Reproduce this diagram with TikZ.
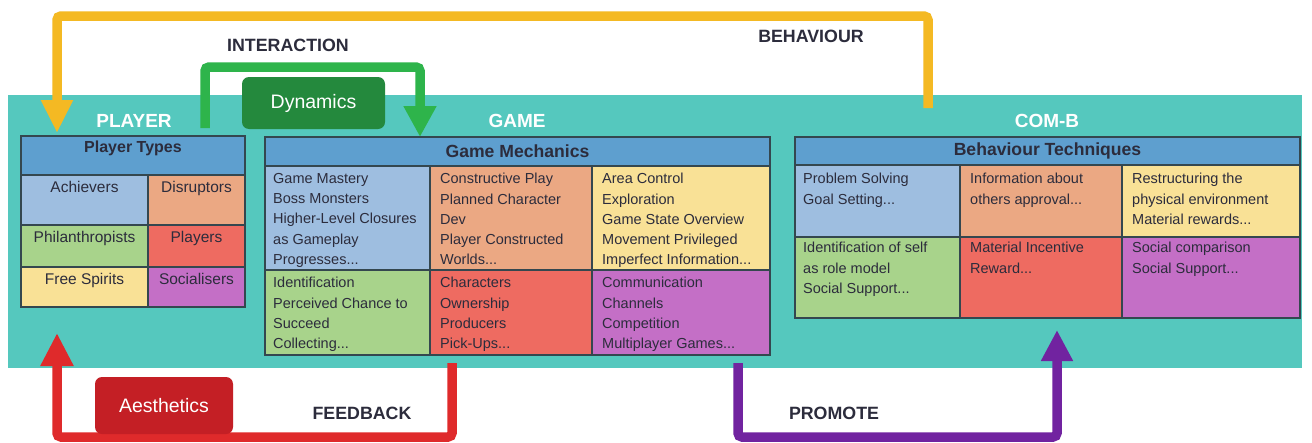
\documentclass[tikz,border=0pt]{standalone}
\usepackage{fontspec}
\setmainfont{Liberation Sans}
\usetikzlibrary{arrows.meta,fit}
\definecolor{tealbg}{HTML}{55C8BE}
\definecolor{hdr}{HTML}{5E9FCF}
\definecolor{clb}{HTML}{9EBEE0}
\definecolor{cor}{HTML}{EBA883}
\definecolor{cye}{HTML}{F9E196}
\definecolor{cgr}{HTML}{A8D38B}
\definecolor{cre}{HTML}{EE6B61}
\definecolor{cpu}{HTML}{C46FC6}
\definecolor{bord}{HTML}{34474F}
\definecolor{txt}{HTML}{2C2C3C}
\definecolor{ayel}{HTML}{F4B923}
\definecolor{agrn}{HTML}{2EB44B}
\definecolor{dgrn}{HTML}{24893D}
\definecolor{ared}{HTML}{DF2A2B}
\definecolor{dred}{HTML}{C41F25}
\definecolor{apur}{HTML}{7123A0}
\tikzset{
  cell/.style={draw=bord, line width=1.3pt, inner sep=0pt, outer sep=0pt},
  ctext/.style={inner sep=0pt, align=left, text=txt, font=\fontsize{14.5}{20.3}\selectfont},
  ptext/.style={inner sep=0pt, text=txt, font=\fontsize{15.5}{19}\selectfont},
  htext/.style={inner sep=0pt, text=txt, font=\bfseries\fontsize{17.6}{20}\selectfont},
  grp/.style={font=\bfseries\fontsize{19}{22}\selectfont, text=white, inner sep=0pt},
  flow/.style={font=\bfseries\fontsize{17.8}{20}\selectfont, text=txt, inner sep=0pt},
  stagebox/.style={rounded corners=7pt, text=white, font=\fontsize{19.5}{22}\selectfont, inner sep=0pt},
  bigarrow/.style={line width=9.5pt, rounded corners=4pt},
}
\begin{document}
\begin{tikzpicture}[x=1pt,y=-1pt]
\useasboundingbox (0,0) rectangle (1312,442);
\fill[white] (0,0) rectangle (1312,442);
% teal background
\node[fill=tealbg, inner sep=0pt, fit={(8,95) (1302,368)}] (bg) {};

% arrows (lines behind boxes)
\coordinate (ys) at (928,108);
\coordinate (ye) at (57,133);
\draw[bigarrow, ayel, -{Triangle[width=30pt,length=33pt]}] (ys) -- ++(0,-92) -| (ye);
\coordinate (gs) at (205,128);
\coordinate (ge) at (420,137);
\draw[bigarrow, agrn, -{Triangle[width=31pt,length=31pt]}] (gs) -- ++(0,-61) -| (ge);
\coordinate (rs) at (452,363);
\coordinate (re) at (57,333);
\draw[bigarrow, ared, -{Triangle[width=31pt,length=33pt]}] (rs) -- ++(0,74) -| (re);
\coordinate (ps) at (738,363);
\coordinate (pe) at (1057,330);
\draw[bigarrow, apur, -{Triangle[width=30pt,length=31pt]}] (ps) -- ++(0,74) -| (pe);

% group labels
\node[grp] (lplayer) at (134,121) {PLAYER};
\node[grp] (lgame) at (517,121) {GAME};
\node[grp] (lcomb) at (1047,121) {COM-B};

% flow labels
\node[flow] (linter) at (288,45) {INTERACTION};
\node[flow] (lbehav) at (811,36) {BEHAVIOUR};
\node[flow] (lfeed) at (362,413) {FEEDBACK};
\node[flow] (lprom) at (834,413) {PROMOTE};

% stage boxes
\node[stagebox, fill=dgrn, fit={(242,77) (385,129)}] (dyn) {};
\node[stagebox] at (dyn.center) {Dynamics};
\node[stagebox, fill=dred, fit={(95,377) (233,434)}] (aes) {};
\node[stagebox] at (aes.center) {Aesthetics};

% Player Types
\node[cell, fill=hdr, fit={(21,136) (245,175)}] (pth) {};
\node[htext, font=\bfseries\fontsize{16}{19}\selectfont] at (133,148) {Player Types};
\node[cell, fill=clb, fit={(21,175) (148,225)}] (p11) {};
\node[cell, fill=cor, fit={(148,175) (245,225)}] (p12) {};
\node[cell, fill=cgr, fit={(21,225) (148,267)}] (p21) {};
\node[cell, fill=cre, fit={(148,225) (245,267)}] (p22) {};
\node[cell, fill=cye, fit={(21,267) (148,307)}] (p31) {};
\node[cell, fill=cpu, fit={(148,267) (245,307)}] (p32) {};
\node[ptext, anchor=north] at ([shift={(0,6)}]p11.north) {Achievers};
\node[ptext, anchor=north] at ([shift={(0,6)}]p12.north) {Disruptors};
\node[ptext, anchor=north] at ([shift={(0,6)}]p21.north) {Philanthropists};
\node[ptext, anchor=north] at ([shift={(0,6)}]p22.north) {Players};
\node[ptext, anchor=north] at ([shift={(0,6)}]p31.north) {Free Spirits};
\node[ptext, anchor=north] at ([shift={(0,6)}]p32.north) {Socialisers};
\draw[bord, line width=2pt] (21,136) rectangle (245,307);

% Game Mechanics
\node[cell, fill=hdr, fit={(265,137) (770,166)}] (gmh) {};
\node[htext] at (gmh.center) {Game Mechanics};
\node[cell, fill=clb, fit={(265,166) (430,270)}] (g11) {};
\node[cell, fill=cor, fit={(430,166) (592,270)}] (g12) {};
\node[cell, fill=cye, fit={(592,166) (770,270)}] (g13) {};
\node[cell, fill=cgr, fit={(265,270) (430,355)}] (g21) {};
\node[cell, fill=cre, fit={(430,270) (592,355)}] (g22) {};
\node[cell, fill=cpu, fit={(592,270) (770,355)}] (g23) {};
\node[ctext, anchor=north west] at ([shift={(8,7)}]g11.north west) {Game Mastery\\Boss Monsters\\Higher-Level Closures\\as Gameplay\\Progresses...};
\node[ctext, anchor=north west] at ([shift={(10,7)}]g12.north west) {Constructive Play\\Planned Character\\Dev\\Player Constructed\\Worlds...};
\node[ctext, anchor=north west] at ([shift={(10,7)}]g13.north west) {Area Control\\Exploration\\Game State Overview\\Movement Privileged\\Imperfect Information...};
\node[ctext, anchor=north west] at ([shift={(8,7)}]g21.north west) {Identification\\Perceived Chance to\\Succeed\\Collecting...};
\node[ctext, anchor=north west] at ([shift={(10,7)}]g22.north west) {Characters\\Ownership\\Producers\\Pick-Ups...};
\node[ctext, anchor=north west] at ([shift={(10,7)}]g23.north west) {Communication\\Channels\\Competition\\Multiplayer Games...};
\draw[bord, line width=2pt] (265,137) rectangle (770,355);

% Behaviour Techniques
\node[cell, fill=hdr, fit={(795,137) (1300,165)}] (bth) {};
\node[htext] at (bth.center) {Behaviour Techniques};
\node[cell, fill=clb, fit={(795,165) (960,237)}] (b11) {};
\node[cell, fill=cor, fit={(960,165) (1122,237)}] (b12) {};
\node[cell, fill=cye, fit={(1122,165) (1300,237)}] (b13) {};
\node[cell, fill=cgr, fit={(795,237) (960,318)}] (b21) {};
\node[cell, fill=cre, fit={(960,237) (1122,318)}] (b22) {};
\node[cell, fill=cpu, fit={(1122,237) (1300,318)}] (b23) {};
\node[ctext, anchor=north west] at ([shift={(8,8)}]b11.north west) {Problem Solving\\Goal Setting...};
\node[ctext, anchor=north west] at ([shift={(10,8)}]b12.north west) {Information about\\others approval...};
\node[ctext, anchor=north west] at ([shift={(10,8)}]b13.north west) {Restructuring the\\physical environment\\Material rewards...};
\node[ctext, anchor=north west] at ([shift={(8,5)}]b21.north west) {Identification of self\\as role model\\Social Support...};
\node[ctext, anchor=north west] at ([shift={(10,5)}]b22.north west) {Material Incentive\\Reward...};
\node[ctext, anchor=north west] at ([shift={(10,5)}]b23.north west) {Social comparison\\Social Support...};
\draw[bord, line width=2pt] (795,137) rectangle (1300,318);
\end{tikzpicture}
\end{document}
